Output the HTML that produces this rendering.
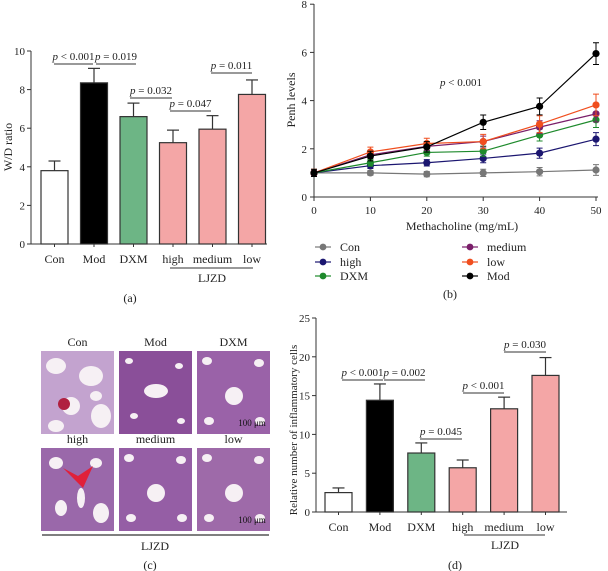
<!DOCTYPE html>
<html><head><meta charset="utf-8"><style>
body{margin:0;background:#fff;}
svg{display:block;font-family:"Liberation Serif",serif;}
</style></head><body>
<svg id="fig" width="608" height="571" viewBox="0 0 608 571" xmlns="http://www.w3.org/2000/svg">
<g id="pa"></g>
<g id="pb"></g>
<g id="pc"></g>
<g id="pd"></g>
</svg>
<script>
// ---- Panel (a) data
const aCats = ["Con","Mod","DXM","high","medium","low"];
const aVals = [3.8,8.35,6.6,5.25,5.95,7.75];
const aErrs = [0.5,0.75,0.7,0.65,0.7,0.75];
const aTicks = [0,2,4,6,8,10];
// ---- Panel (b) data
const bX = [0,10,20,30,40,50];
const bNames = ["Con","high","DXM","medium","low","Mod"];
const bCon = [1,1,0.95,1.0,1.05,1.12];
const bHigh = [1,1.3,1.42,1.6,1.82,2.4];
const bDXM = [1,1.42,1.85,1.9,2.57,3.2];
const bMedium = [1,1.75,2.1,2.3,2.9,3.45];
const bLow = [1,1.87,2.22,2.3,3.02,3.82];
const bMod = [1,1.7,2.08,3.1,3.76,5.95];
const bErrs = [0.15,0.2,0.22,0.3,0.35,0.45];
const bYTicks = [0,2,4,6,8];
// ---- Panel (d) data
const dCats = ["Con","Mod","DXM","high","medium","low"];
const dVals = [2.5,14.4,7.6,5.7,13.3,17.6];
const dErrs = [0.6,2.1,1.3,1.0,1.5,2.3];
const dTicks = [0,5,10,15,20,25];

const NS="http://www.w3.org/2000/svg";
function mk(parent,tag,attrs,text){const e=document.createElementNS(NS,tag);for(const k in attrs)e.setAttribute(k,attrs[k]);if(text!==undefined)e.textContent=text;parent.appendChild(e);return e;}

function barChart(g,cats,vals,errs,ticks,cfg){
  const y=v=>cfg.y0-(v-ticks[0])/(ticks[ticks.length-1]-ticks[0])*(cfg.y0-cfg.yTop);
  const x=i=>cfg.x0+i*cfg.step;
  const ax=mk(g,'path',{d:`M${cfg.ax},${cfg.yTop}V${cfg.y0}H${cfg.axR}`,stroke:'#333',fill:'none','stroke-width':1});
  
  
  ticks.forEach(t=>{
    mk(g,'line',{x1:cfg.ax-4,x2:cfg.ax,y1:y(t),y2:y(t),stroke:'#333'});
    const tl=mk(g,'text',{x:cfg.ax-6,y:y(t)+4,'text-anchor':'end','font-size':11,fill:'#222'},t);
    
    
  });
  const fills=['#fff','#000','#6db585','#f4a6a6','#f4a6a6','#f4a6a6'];
  cats.forEach((c,i)=>{
    const cx=x(i)+cfg.bw/2;
    mk(g,'line',{x1:cx,x2:cx,y1:y(vals[i]),y2:y(vals[i]+errs[i]),stroke:'#333','stroke-width':1.2});
    mk(g,'line',{x1:cx-6,x2:cx+6,y1:y(vals[i]+errs[i]),y2:y(vals[i]+errs[i]),stroke:'#333','stroke-width':1.2});
    const r=mk(g,'rect',{x:x(i),y:y(vals[i]),width:cfg.bw,height:cfg.y0-y(vals[i]),fill:fills[i],stroke:'#333','stroke-width':1.2});
    
    
    mk(g,'line',{x1:cx,x2:cx,y1:cfg.y0,y2:cfg.y0+3,stroke:'#333'});
    const t=mk(g,'text',{x:cx,y:cfg.labY,'text-anchor':'middle','font-size':12,fill:'#222'},c);
    
    
  });
  return {x,y};
}
function sig(g,x1,x2,yy,txt){
  mk(g,'line',{x1:x1,x2:x2,y1:yy,y2:yy,stroke:'#333'});
  const t=mk(g,'text',{x:(x1+x2)/2,y:yy-4,'text-anchor':'middle','font-size':11,fill:'#222'});
  mk(t,'tspan',{'font-style':'italic'},'p');
  mk(t,'tspan',{},txt);
  
  
}
function text(g,x,y,s,size,name,extra){const t=mk(g,'text',Object.assign({x:x,y:y,'text-anchor':'middle','font-size':size,fill:'#222'},extra||{}),s);return t;}

// Panel a
const pa=document.getElementById('pa');
barChart(pa,aCats,aVals,aErrs,aTicks,{ax:31,axR:267,y0:244,yTop:51,x0:41,step:39.5,bw:27,labY:263});
sig(pa,54,93,64,' < 0.001');sig(pa,96,136,64,' = 0.019');
sig(pa,130,172,98,' = 0.032');sig(pa,170,211,111,' = 0.047');sig(pa,211,252,73,' = 0.011');
mk(pa,'line',{x1:170,x2:253,y1:268,y2:268,stroke:'#333'});
text(pa,212,282,'LJZD',12,'group-label-ljzd');
text(pa,130,302,'(a)',12,'panel-label-a');
text(pa,0,0,'W/D ratio',12,'y-axis-title',{transform:'translate(12,147) rotate(-90)'});

// Panel b
const pb=document.getElementById('pb');
const bx=v=>314+v*5.64, by=v=>197-v*24.1;
mk(pb,'path',{d:`M314,4V197H598`,stroke:'#333',fill:'none'});
bYTicks.forEach(t=>{mk(pb,'line',{x1:310,x2:314,y1:by(t),y2:by(t),stroke:'#333'});text(pb,307,by(t)+4,t,11,'y-tick-label',{'text-anchor':'end'});});
bX.forEach(t=>{mk(pb,'line',{x1:bx(t),x2:bx(t),y1:197,y2:201,stroke:'#333'});text(pb,bx(t),214,t,11,'x-tick-label');});
text(pb,462,230,'Methacholine (mg/mL)',12,'x-axis-title');
text(pb,0,0,'Penh levels',12,'y-axis-title',{transform:'translate(295,100) rotate(-90)'});
const pt=text(pb,461,86,'',11,'p-value-label');mk(pt,'tspan',{'font-style':'italic'},'p');mk(pt,'tspan',{},' < 0.001');
const bSeries=[bCon,bHigh,bDXM,bMedium,bLow,bMod];
const bCols=['#777','#1b1670','#1e8a2c','#7a1f6a','#f04e1e','#000'];
const bErrScale=[0.5,0.6,0.7,0.75,1,1];
bSeries.forEach((s,k)=>{
  const g=mk(pb,'g',{});
  
  
  mk(g,'polyline',{points:s.map((v,i)=>bx(bX[i])+','+by(v)).join(' '),fill:'none',stroke:bCols[k],'stroke-width':1.2});
  s.forEach((v,i)=>{
    const e=bErrs[i]*bErrScale[k];
    mk(g,'path',{d:`M${bx(bX[i])},${by(v-e)}V${by(v+e)}M${bx(bX[i])-3},${by(v-e)}h6M${bx(bX[i])-3},${by(v+e)}h6`,stroke:bCols[k],'stroke-width':1});
    const c=mk(g,'circle',{cx:bx(bX[i]),cy:by(v),r:3.6,fill:bCols[k]});
    
    
  });
});
const legPos=[[321,247],[321,262],[321,276],[468,247],[468,262],[468,276]];
bNames.forEach((n,k)=>{
  const g=mk(pb,'g',{});
  
  
  const [lx,ly]=legPos[k];
  mk(g,'line',{x1:lx-6,x2:lx+10,y1:ly,y2:ly,stroke:bCols[k],'stroke-width':1.2});
  mk(g,'circle',{cx:lx+2,cy:ly,r:3.4,fill:bCols[k]});
  mk(g,'text',{x:lx+19,y:ly+4,'font-size':12,fill:'#222'},n);
});
text(pb,450,298,'(b)',12,'panel-label-b');

// Panel c
const pc=document.getElementById('pc');
const cLabels=['Con','Mod','DXM','high','medium','low'];
const cCols=[41,119,197], cRows=[351,448];
const bg=['#c3a3cf','#8a4f99','#9a62a8','#9a68aa','#955ea5','#9e6aa9'];
cLabels.forEach((l,k)=>{
  const x=cCols[k%3], y=cRows[Math.floor(k/3)], w=73, h=83;
  const g=mk(pc,'g',{});
  
  
  mk(g,'rect',{x:x,y:y,width:w,height:h,fill:bg[k]});
  const holes=k===0?[[15,15,10,8],[50,25,12,10],[30,55,9,9],[60,65,10,12],[15,75,8,6],[55,45,6,5]]:
    k===1?[[37,40,12,7],[10,10,4,3],[60,15,4,3],[15,65,4,3],[62,70,4,3]]:
    k===3?[[15,15,7,6],[55,15,6,5],[20,60,6,8],[60,65,8,10],[40,50,4,10]]:
    [[37,45,9,9],[10,10,5,4],[62,12,5,4],[12,70,5,4],[63,70,5,4]];
  holes.forEach(hh=>mk(g,'ellipse',{cx:x+hh[0],cy:y+hh[1],rx:hh[2],ry:hh[3],fill:'#f6f0f4'}));
  if(k===3) mk(g,'path',{d:`M${x+22},${y+20}l15,8l15,-10l-10,22z`,fill:'#e0203a'});
  if(k===0) mk(g,'circle',{cx:x+23,cy:y+53,r:6,fill:'#b02040'});
  if(k===2||k===5) text(g,x+55,y+h-8,'100 μm',9,'scale-bar-label',{fill:'#111'});
  text(pc,x+w/2,y-5,l,12,'micrograph-label-'+l);
});
mk(pc,'line',{x1:42,x2:269,y1:535,y2:535,stroke:'#555','stroke-width':1.5});
text(pc,155,550,'LJZD',12,'group-label-ljzd');
text(pc,150,569,'(c)',12,'panel-label-c');

// Panel d
const pd=document.getElementById('pd');
barChart(pd,dCats,dVals,dErrs,dTicks,{ax:316,axR:567,y0:512,yTop:318,x0:325,step:41.4,bw:27,labY:531});
sig(pd,342,383,380,' < 0.001');sig(pd,384,425,380,' = 0.002');
sig(pd,420,462,439,' = 0.045');sig(pd,463,504,393,' < 0.001');sig(pd,504,546,352,' = 0.030');
mk(pd,'line',{x1:464,x2:545,y1:535,y2:535,stroke:'#333'});
text(pd,505,549,'LJZD',12,'group-label-ljzd');
text(pd,455,569,'(d)',12,'panel-label-d');
text(pd,0,0,'Relative number of inflammatory cells',11,'y-axis-title',{transform:'translate(297,430) rotate(-90)'});
</script>
</body></html>
